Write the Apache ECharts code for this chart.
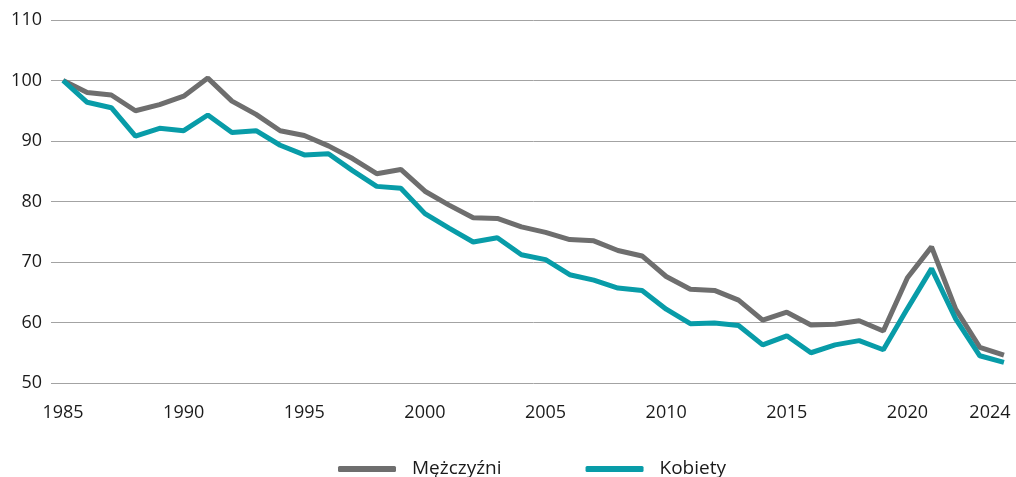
<!DOCTYPE html>
<html>
<head>
<meta charset="utf-8">
<script src="https://cdn.jsdelivr.net/npm/echarts@6/dist/echarts.min.js"></script>
<style>
  html, body { margin: 0; padding: 0; background: #fff; }
  #chart { width: 1016px; height: 477px; }
</style>
</head>
<body>
<div id="chart"></div>
<script>
const years = [];
for (let y = 1985; y <= 2024; y++) years.push(String(y));

const men = [
  100, 98.0, 97.6, 95.0, 96.0, 97.4, 100.4, 96.6, 94.4, 91.7,
  90.9, 89.2, 87.1, 84.6, 85.3, 81.7, 79.4, 77.3, 77.2, 75.8,
  74.9, 73.7, 73.5, 71.9, 71.0, 67.6, 65.5, 65.3, 63.7, 60.4,
  61.7, 59.6, 59.7, 60.3, 58.6, 67.4, 72.5, 62.2, 55.9, 54.6
];
const women = [
  100, 96.4, 95.5, 90.8, 92.1, 91.7, 94.3, 91.4, 91.7, 89.3,
  87.7, 87.9, 85.1, 82.5, 82.2, 78.0, 75.6, 73.3, 74.0, 71.2,
  70.4, 67.9, 67.0, 65.7, 65.3, 62.2, 59.8, 59.9, 59.5, 56.3,
  57.8, 55.0, 56.3, 57.0, 55.5, 62.3, 68.9, 60.6, 54.5, 53.4
];
const shownYears = ['1985', '1990', '1995', '2000', '2005', '2010', '2015', '2020', '2024'];

const font = '"Open Sans", sans-serif';
const chart = echarts.init(document.getElementById('chart'));
chart.setOption({
  animation: false,
  textStyle: { fontFamily: font },
  grid: { left: 51, right: -3, top: 20, bottom: 94 },
  legend: {
    left: 338,
    top: 457,
    padding: 0,
    itemWidth: 58,
    itemHeight: 6,
    itemGap: 84,
    icon: 'roundRect',
    textStyle: { fontFamily: font, fontSize: 19, lineHeight: 20, color: '#1a1a1a', padding: [0, 0, 4, 11] },
    data: ['Mężczyźni', 'Kobiety']
  },
  xAxis: {
    type: 'category',
    data: years,
    boundaryGap: true,
    axisLine: { show: false },
    axisTick: { show: false },
    axisLabel: {
      interval: (i, v) => shownYears.includes(v),
      margin: 21,
      fontSize: 18,
      color: '#1a1a1a',
      fontFamily: font,
      formatter: v => v === '2024' ? '{e|2024}' : v,
      rich: { e: { fontSize: 18, color: '#1a1a1a', fontFamily: font, padding: [0, 28, 0, 0] } }
    }
  },
  yAxis: {
    type: 'value',
    min: 50,
    max: 110,
    interval: 10,
    axisLine: { show: false },
    axisTick: { show: false },
    axisLabel: { margin: 9, fontSize: 18, color: '#1a1a1a', fontFamily: font },
    splitLine: { lineStyle: { color: '#a3a3a3', width: 1 } }
  },
  series: [
    {
      name: 'Mężczyźni',
      type: 'line',
      data: men,
      symbol: 'none',
      lineStyle: { width: 5, color: '#6e6e6e' },
      itemStyle: { color: '#6e6e6e' }
    },
    {
      name: 'Kobiety',
      type: 'line',
      data: women,
      symbol: 'none',
      lineStyle: { width: 5, color: '#089ca8' },
      itemStyle: { color: '#089ca8' }
    }
  ]
});
</script>
</body>
</html>
